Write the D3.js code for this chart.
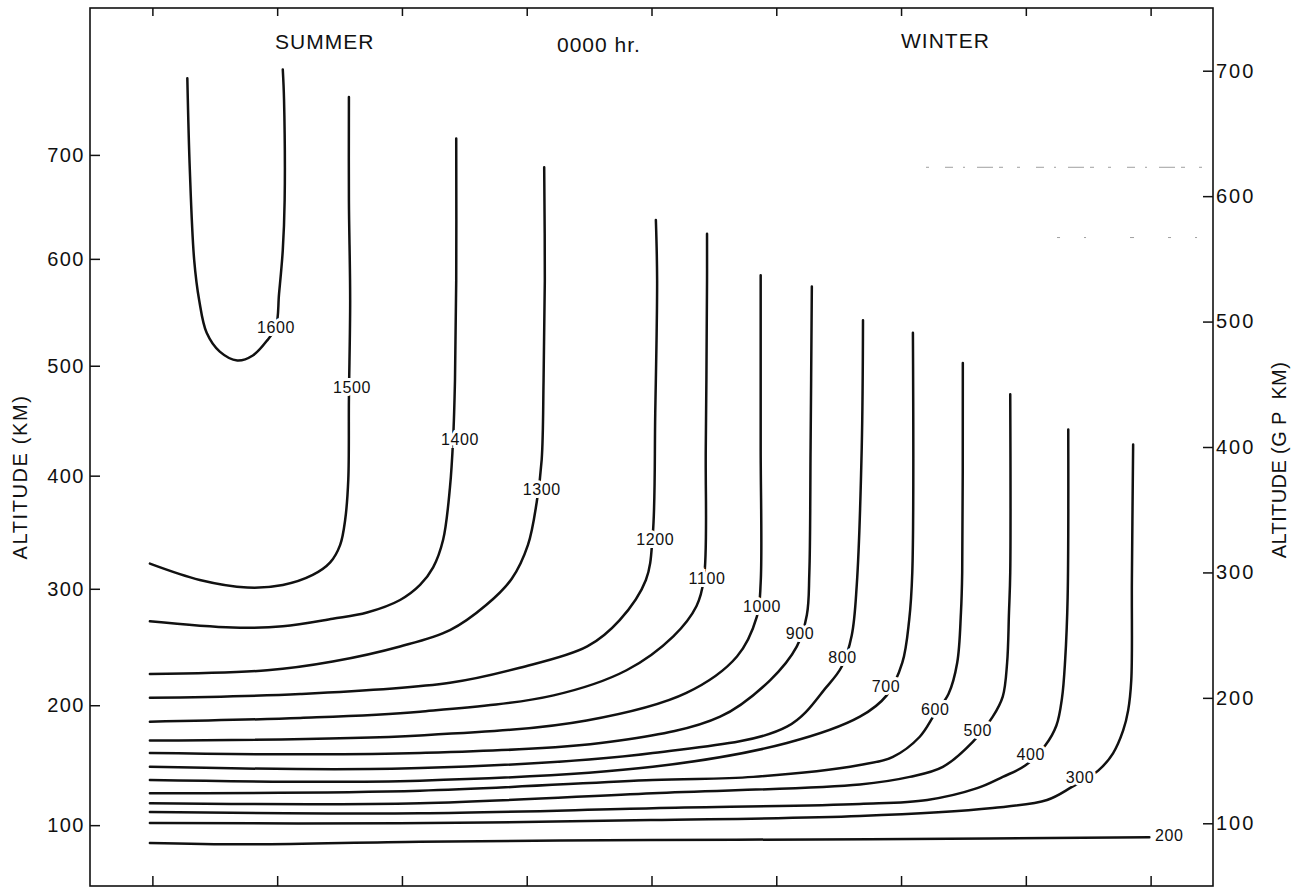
<!DOCTYPE html>
<html>
<head>
<meta charset="utf-8">
<script src="https://cdn.jsdelivr.net/npm/d3@7"></script>
<style>
  html, body { margin: 0; padding: 0; background: #fff; }
  svg { display: block; font-family: "Liberation Sans", Arial, sans-serif; }
</style>
</head>
<body>
<svg id="chart" width="1305" height="888"></svg>
<script>
// Latitude ticks (deg; summer hemisphere on the left, winter on the right)
const latTicks = [-80, -60, -40, -20, 0, 20, 40, 60, 80];
// Geometric altitude ticks (km), left axis
const altKmTicks = [100, 200, 300, 400, 500, 600, 700];
// Geopotential altitude ticks (gp km), right axis
const gpKmTicks = [100, 200, 300, 400, 500, 600, 700];

// Isotherms (K): [latitude deg, geopotential altitude gp km]
const iso1600 = [[-74.4, 694], [-74.0, 621], [-73.3, 549], [-72.5, 517], [-71.3, 491], [-69.2, 476], [-66.4, 469],
  [-63.9, 473], [-61.6, 485], [-60.2, 496], [-59.7, 522], [-59.1, 557], [-58.8, 597], [-58.9, 677], [-59.1, 701]];
const iso1500 = [[-80.4, 307], [-72.4, 294], [-64.8, 288], [-59.1, 290], [-54.3, 298], [-51.5, 308], [-49.9, 322],
  [-49.1, 342], [-48.6, 374], [-48.5, 438], [-48.3, 517], [-48.5, 597], [-48.5, 679]];
const iso1400 = [[-80.4, 261], [-67.1, 256], [-59.1, 257], [-51.1, 263], [-45.6, 268], [-40.3, 278], [-37.1, 290],
  [-35.0, 304], [-33.4, 326], [-32.3, 368], [-31.8, 406], [-31.5, 453], [-31.3, 533], [-31.3, 646]];
const iso1300 = [[-80.4, 219], [-61.6, 222], [-51.1, 229], [-40.3, 241], [-32.3, 254], [-26.5, 274], [-22.4, 295],
  [-19.8, 322], [-18.4, 356], [-17.6, 390], [-17.3, 453], [-17.1, 533], [-17.2, 623]];
const iso1200 = [[-80.4, 200], [-56.3, 203], [-32.3, 212], [-21.1, 224], [-10.3, 241], [-5.1, 262],
  [-0.9, 294], [0.2, 330], [0.6, 427], [0.9, 533], [0.7, 581]];
const iso1100 = [[-80.4, 181], [-56.3, 184], [-37.1, 189], [-15.7, 202], [-4.0, 222], [3.5, 249], [7.2, 273],
  [8.4, 295], [8.7, 400], [8.9, 533], [8.9, 570]];
const iso1000 = [[-80.4, 166], [-37.1, 170], [-10.4, 182], [5.6, 204], [13.7, 233], [16.9, 265],
  [17.5, 292], [17.5, 400], [17.5, 537]];
const iso900 = [[-80.4, 156], [-37.1, 156], [-5.1, 166], [11.0, 185], [19.0, 214], [23.3, 241],
  [24.9, 266], [25.3, 300], [25.5, 400], [25.7, 528]];
const iso800 = [[-80.4, 145], [-37.1, 144], [0.2, 156], [21.7, 177], [28.1, 209], [30.5, 225],
  [32.1, 250], [32.9, 290], [33.7, 400], [33.9, 501]];
const iso700 = [[-80.4, 134.5], [-37.1, 134], [0.2, 145], [21.7, 164], [33.4, 185], [37.7, 202],
  [40.2, 228], [41.3, 262], [41.8, 300], [41.9, 491]];
const iso600 = [[-80.4, 124], [-37.1, 126], [0.2, 134.5], [16.3, 137], [33.4, 146.5], [38.7, 153], [43.0, 169],
  [45.4, 187], [47.6, 203], [49.0, 228], [49.6, 268], [49.8, 300], [49.9, 467]];
const iso500 = [[-80.4, 116], [-37.1, 116], [0.2, 124], [33.4, 131], [41.4, 137], [46.7, 145], [51.5, 165],
  [54.7, 185], [56.3, 201], [57.0, 228], [57.3, 268], [57.5, 300], [57.5, 442]];
const iso400 = [[-80.4, 109], [-37.1, 108], [0.2, 112], [33.4, 115.4], [44.2, 118.6], [52.2, 128], [56.3, 137],
  [59.9, 146], [63.1, 162], [64.9, 178], [65.8, 200], [66.3, 230], [66.7, 280], [66.8, 414]];
const iso300 = [[-80.4, 100.2], [-40.3, 100], [-0.1, 102.6], [33.4, 105.8], [54.7, 112.2], [63.4, 118.6], [67.4, 129],
  [71.6, 142], [74.0, 156], [75.6, 174], [76.4, 190], [76.9, 214], [77.0, 294], [77.2, 402]];
const iso200 = [[-80.4, 84.3], [-65.2, 83.2], [-37.1, 85.3], [-0.1, 86.7], [35.0, 87.2], [79.8, 88.8]];

// Label anchors on each isotherm: [temperature K, latitude deg, gp km]
const isoLabels = [[1600, -60.2, 495.7], [1500, -48.0, 447.8], [1400, -30.7, 406.4], [1300, -17.6, 366.5],
  [1200, 0.6, 326.7], [1100, 8.9, 295.6], [1000, 17.7, 273.2], [900, 23.8, 251.7], [800, 30.6, 232.6],
  [700, 37.6, 209.5], [600, 45.5, 191.1], [500, 52.3, 174.4], [400, 60.8, 155.2], [300, 68.7, 136.9],
  [200, 83.0, 90.7]];

// Faint guide lines near the top right: [gp km, from lat, to lat]
const faintGuides = [[623, 44, 90], [567, 65, 90]];

const isotherms = [iso1600, iso1500, iso1400, iso1300, iso1200, iso1100, iso1000, iso900,
  iso800, iso700, iso600, iso500, iso400, iso300, iso200];

// ---------------------------------------------------------------
const svg = d3.select("#chart");
svg.append("rect").attr("width", 1305).attr("height", 888).attr("fill", "#fff");

const x = d3.scaleLinear().domain([-90, 90]).range([90, 1213]);
const y = d3.scaleLinear().domain([50, 750]).range([886, 8]);

// geometric km -> geopotential km (effective radius used for the conversion)
const R_EFF = 6600;
const toGp = z => z * R_EFF / (R_EFF + z);
const fromGp = h => h * R_EFF / (R_EFF - h);

const ink = "#111";

// faint guides
faintGuides.forEach(([h, a, b]) => {
  svg.append("line")
    .attr("x1", x(a)).attr("x2", x(b))
    .attr("y1", y(h)).attr("y2", y(h))
    .attr("stroke", "#888").attr("stroke-width", 0.8)
    .attr("stroke-dasharray", h > 600 ? "3 16 8 10 2 12 16 6 4 14" : "3 24 2 44 4 34");
});

// isotherms
const line = d3.line()
  .x(d => x(d[0])).y(d => y(d[1]))
  .curve(d3.curveCatmullRom.alpha(0.5));

svg.append("g").selectAll("path")
  .data(isotherms)
  .join("path")
  .attr("d", line)
  .attr("fill", "none")
  .attr("stroke", ink)
  .attr("stroke-width", 2.5)
  .attr("stroke-linejoin", "round")
  .attr("stroke-linecap", "round");

// isotherm labels, masking the line under them
svg.append("g").selectAll("text")
  .data(isoLabels)
  .join("text")
  .attr("x", d => x(d[1])).attr("y", d => y(d[2]))
  .attr("dy", "0.36em")
  .attr("text-anchor", "middle")
  .attr("font-size", 16)
  .attr("letter-spacing", 0.6)
  .attr("fill", ink)
  .attr("stroke", "#fff").attr("stroke-width", 6)
  .attr("paint-order", "stroke")
  .text(d => d[0]);

// axes
const styleAxis = g => {
  g.select(".domain").remove();
  g.selectAll(".tick line").attr("stroke", ink).attr("stroke-width", 1.5);
  g.selectAll(".tick text").attr("fill", ink).attr("font-size", 20)
    .attr("font-family", "'Liberation Sans', Arial, sans-serif");
};

svg.append("g")
  .attr("transform", `translate(${x.range()[0]},0)`)
  .call(d3.axisLeft(y).tickValues(altKmTicks.map(toGp))
    .tickFormat(h => Math.round(fromGp(h))).tickSize(-10).tickPadding(5))
  .call(styleAxis)
  .call(g => g.selectAll(".tick text").attr("letter-spacing", 1.5));

svg.append("g")
  .attr("transform", `translate(${x.range()[1]},0)`)
  .call(d3.axisRight(y).tickValues(gpKmTicks).tickSize(-10).tickPadding(3))
  .call(styleAxis)
  .call(g => g.selectAll(".tick text").attr("letter-spacing", 2));

svg.append("g")
  .attr("transform", `translate(0,${y.range()[1]})`)
  .call(d3.axisTop(x).tickValues(latTicks).tickSize(-8).tickFormat(""))
  .call(styleAxis);

svg.append("g")
  .attr("transform", `translate(0,${y.range()[0]})`)
  .call(d3.axisBottom(x).tickValues(latTicks).tickSize(-10).tickFormat(""))
  .call(styleAxis);

// frame
svg.append("rect")
  .attr("x", x.range()[0]).attr("y", y.range()[1])
  .attr("width", x.range()[1] - x.range()[0])
  .attr("height", y.range()[0] - y.range()[1])
  .attr("fill", "none").attr("stroke", ink).attr("stroke-width", 1.6);

// axis titles
svg.append("text")
  .attr("transform", "translate(27,477) rotate(-90)")
  .attr("text-anchor", "middle")
  .attr("font-size", 20).attr("letter-spacing", 1.6)
  .attr("fill", ink)
  .style("white-space", "pre")
  .text("ALTITUDE (KM)");

svg.append("text")
  .attr("transform", "translate(1286,460) rotate(-90)")
  .attr("text-anchor", "middle")
  .attr("font-size", 20).attr("letter-spacing", 0.4)
  .attr("fill", ink)
  .style("white-space", "pre")
  .text("ALTITUDE (G P  KM)");

// headings
const headings = [["SUMMER", 275, 49], ["0000 hr.", 557, 52], ["WINTER", 901, 48]];
svg.append("g").selectAll("text")
  .data(headings)
  .join("text")
  .attr("x", d => d[1]).attr("y", d => d[2])
  .attr("font-size", 21).attr("letter-spacing", 1)
  .attr("fill", ink)
  .text(d => d[0]);
</script>
</body>
</html>
